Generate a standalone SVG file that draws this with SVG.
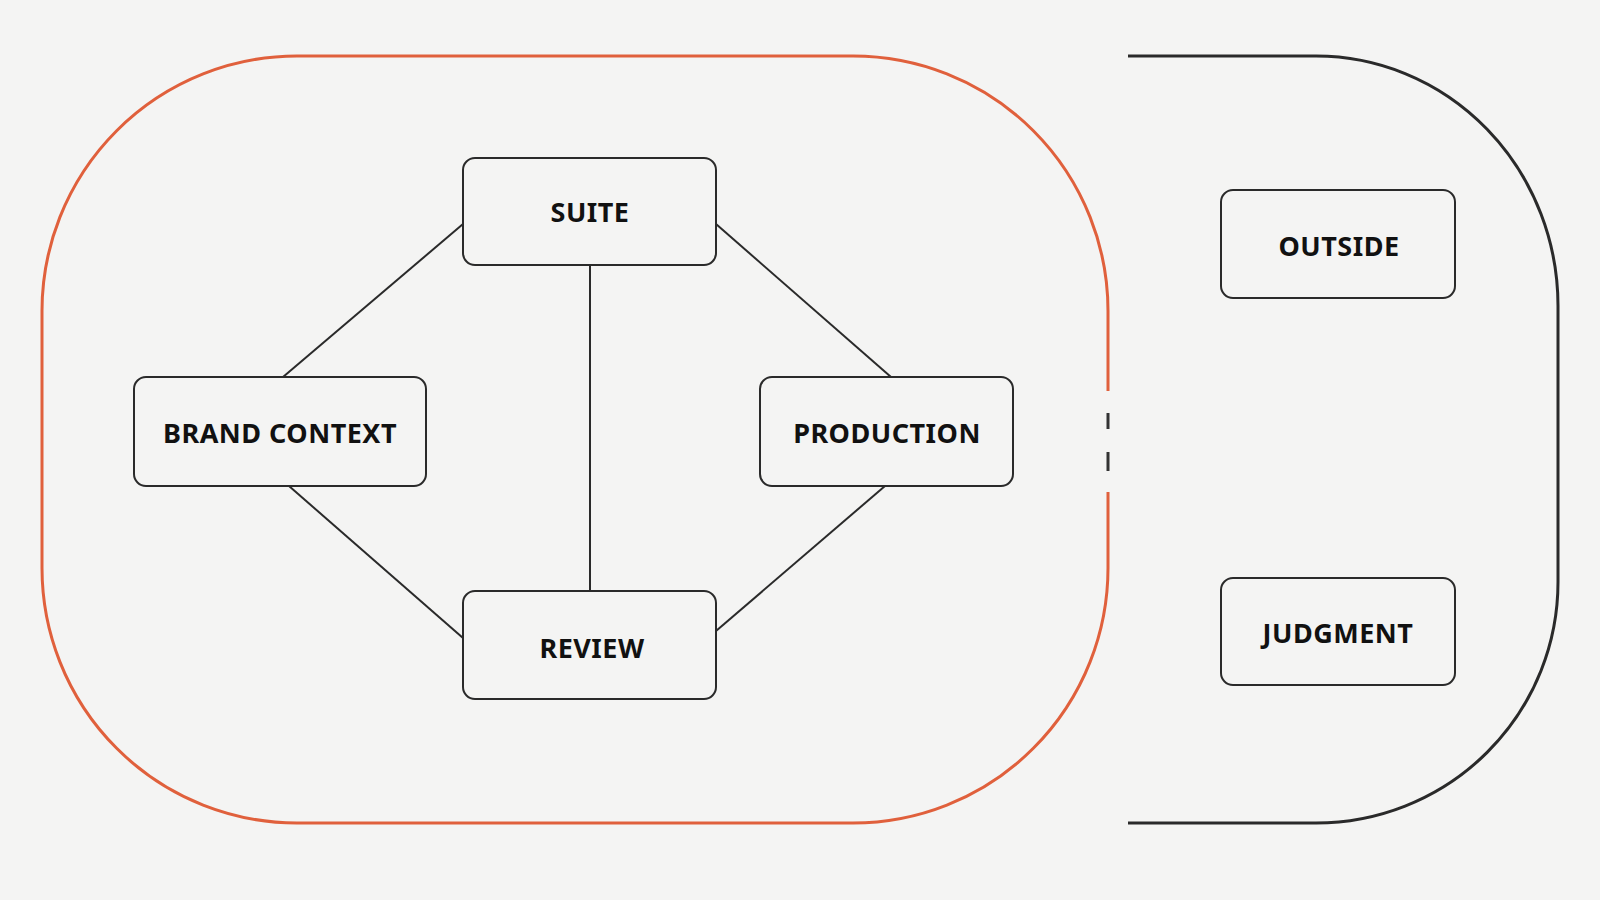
<svg xmlns="http://www.w3.org/2000/svg" width="1600" height="900" viewBox="0 0 1600 900">
<style>
.n rect{fill:#f4f4f3;stroke:#2a2a2a;stroke-width:2}
.n text{font-family:"Noto Sans","DejaVu Sans",sans-serif;font-weight:700;font-size:27px;fill:#111;text-anchor:middle;dominant-baseline:central;letter-spacing:0.5px}
.c line{stroke:#2a2a2a;stroke-width:2}
</style>
<rect width="1600" height="900" fill="#f4f4f3"/>
<path d="M1108,391 L1108,311 A255,255 0 0 0 853,56 L297,56 A255,255 0 0 0 42,311 L42,568 A255,255 0 0 0 297,823 L853,823 A255,255 0 0 0 1108,568 L1108,492" fill="none" stroke="#e0603c" stroke-width="3"/>
<line x1="1108" y1="413" x2="1108" y2="429" stroke="#333" stroke-width="3"/>
<line x1="1108" y1="452" x2="1108" y2="471" stroke="#333" stroke-width="3"/>
<path d="M1128,56 L1316,56 A242,250 0 0 1 1558,306 L1558,582 A242,241 0 0 1 1316,823 L1128,823" fill="none" stroke="#2a2a2a" stroke-width="3"/>
<g class="c">
<line x1="463" y1="224" x2="283" y2="377"/>
<line x1="716" y1="224" x2="891" y2="377"/>
<line x1="590" y1="265" x2="590" y2="591"/>
<line x1="289" y1="486" x2="463" y2="638"/>
<line x1="885" y1="486" x2="716" y2="631"/>
</g>
<g id="suite" class="n"><rect x="463" y="158" width="253" height="107" rx="12"/><text x="590" y="211">SUITE</text></g>
<g id="brand" class="n"><rect x="134" y="377" width="292" height="109" rx="12"/><text x="280" y="432">BRAND CONTEXT</text></g>
<g id="production" class="n"><rect x="760" y="377" width="253" height="109" rx="12"/><text x="887" y="432">PRODUCTION</text></g>
<g id="review" class="n"><rect x="463" y="591" width="253" height="108" rx="12"/><text x="592" y="647">REVIEW</text></g>
<g id="outside" class="n"><rect x="1221" y="190" width="234" height="108" rx="12"/><text x="1339" y="245">OUTSIDE</text></g>
<g id="judgment" class="n"><rect x="1221" y="578" width="234" height="107" rx="12"/><text x="1338" y="632">JUDGMENT</text></g>
</svg>
